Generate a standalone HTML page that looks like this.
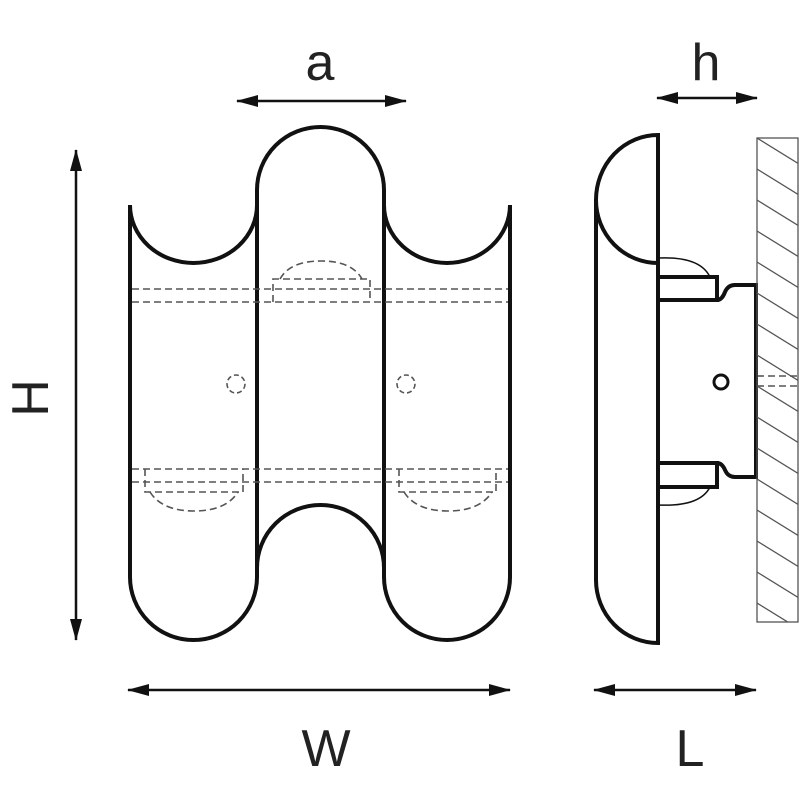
<!DOCTYPE html>
<html><head><style>html,body{margin:0;padding:0;background:#fff}svg{display:block}</style></head><body>
<svg width="800" height="800" viewBox="0 0 800 800" xmlns="http://www.w3.org/2000/svg">
<defs>
<marker id="ar" markerWidth="22" markerHeight="12" refX="21" refY="6" orient="auto-start-reverse" markerUnits="userSpaceOnUse"><path d="M0,0 L22,6 L0,12 z" fill="#111"/></marker>
<clipPath id="wc"><rect x="757" y="138" width="41" height="484"/></clipPath>
</defs>
<g font-family="Liberation Sans, sans-serif" font-size="52" fill="#222" text-anchor="middle">
<text x="320" y="80">a</text>
<text x="706" y="80">h</text>
<text x="326" y="766">W</text>
<text x="690" y="766">L</text>
<text x="0" y="0" transform="translate(48,398) rotate(-90)">H</text>
</g>
<g stroke="#111" stroke-width="2.5" fill="none">
<line x1="237" y1="101" x2="406" y2="101" marker-start="url(#ar)" marker-end="url(#ar)"/>
<line x1="657" y1="98" x2="757" y2="98" marker-start="url(#ar)" marker-end="url(#ar)"/>
<line x1="76" y1="150" x2="76" y2="640" marker-start="url(#ar)" marker-end="url(#ar)"/>
<line x1="128" y1="690" x2="510" y2="690" marker-start="url(#ar)" marker-end="url(#ar)"/>
<line x1="594" y1="690" x2="756" y2="690" marker-start="url(#ar)" marker-end="url(#ar)"/>
</g>
<!-- front view -->
<g stroke="#111" stroke-width="4" fill="none">
<path d="M130,205 A63.5,58 0 0 0 257,205 L257,190 A63.5,63 0 0 1 384,190 L384,205 A63,58 0 0 0 510,205 L510,577 A63,63 0 0 1 384,577 L384,568 A63.5,63 0 0 0 257,568 L257,577 A63.5,63 0 0 1 130,577 Z"/>
<line x1="257" y1="205" x2="257" y2="568"/>
<line x1="384" y1="205" x2="384" y2="568"/>
</g>
<g stroke="#555" stroke-width="1.6" fill="none" stroke-dasharray="7,4">
<line x1="132" y1="289" x2="508" y2="289"/>
<line x1="132" y1="302" x2="508" y2="302"/>
<line x1="132" y1="469" x2="508" y2="469"/>
<line x1="132" y1="482" x2="508" y2="482"/>
<path d="M273,302 L273,279 L370,279 L370,302"/>
<path d="M280,279 Q290,261 321,261 Q352,261 362,279"/>
<path d="M145,469 L145,492 L243,492 L243,469"/>
<path d="M150,492 Q162,511 194,511 Q226,511 238,492"/>
<path d="M399,469 L399,492 L496,492 L496,469"/>
<path d="M404,492 Q416,511 448,511 Q480,511 492,492"/>
<circle cx="236" cy="384" r="9" stroke-dasharray="5,3"/>
<circle cx="406" cy="384" r="9" stroke-dasharray="5,3"/>
<line x1="757" y1="376" x2="800" y2="376"/>
<line x1="757" y1="386" x2="800" y2="386"/>
</g>
<!-- side view -->
<g stroke="#111" stroke-width="4" fill="none">
<path d="M658,135 L658,643 A62,63 0 0 1 596,580 L596,200 A62,65 0 0 1 658,135 Z"/>
<path d="M596,200 A62,63 0 0 0 658,263"/>
<path d="M658,277 L717,277 L717,300 L658,300"/>
<path d="M717,300 Q722,300 725,292 Q728,285 735,285 L756,285 L756,477 L735,477 Q728,477 725,470 Q722,463 717,463"/>
<path d="M658,463 L717,463 L717,487 L658,487"/>
<circle cx="721" cy="382" r="7" stroke-width="3"/>
</g>
<g stroke="#111" stroke-width="1.5" fill="none">
<path d="M658,258 Q700,256 710,277"/>
<path d="M658,505 Q700,507 710,487"/>
</g>
<g stroke="#555" stroke-width="1.3" fill="none">
<rect x="757" y="138" width="41" height="484"/>
<g clip-path="url(#wc)">
<path d="M757,138 l42,26 M757,169 l42,26 M757,200 l42,26 M757,231 l42,26 M757,262 l42,26 M757,293 l42,26 M757,324 l42,26 M757,355 l42,26 M757,386 l42,26 M757,417 l42,26 M757,448 l42,26 M757,479 l42,26 M757,510 l42,26 M757,541 l42,26 M757,572 l42,26 M757,603 l42,26"/>
</g>
</g>
</svg>
</body></html>
